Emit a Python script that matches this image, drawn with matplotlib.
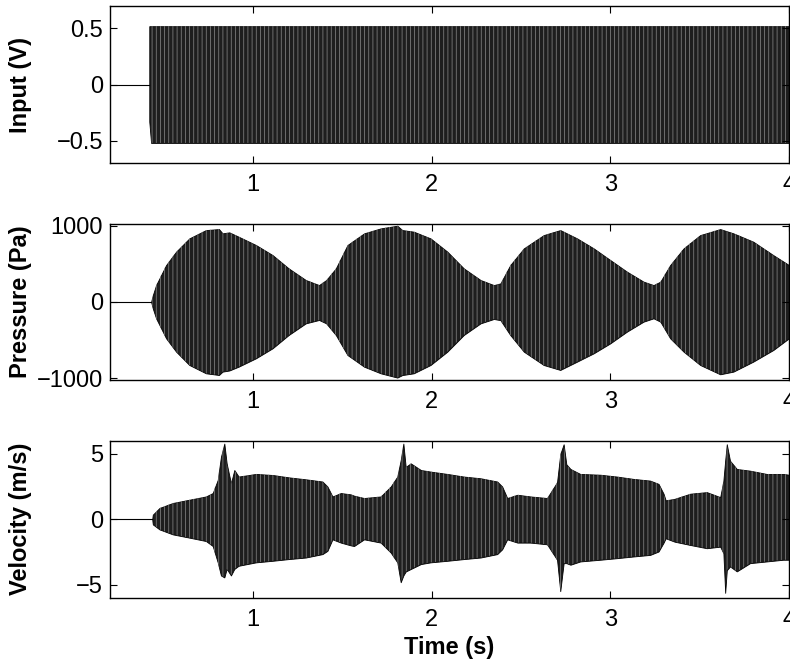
import numpy as np
import matplotlib
matplotlib.use('Agg')
import matplotlib.pyplot as plt

plt.rcParams['font.family'] = ['Liberation Sans', 'DejaVu Sans']
plt.rcParams['font.size'] = 17
plt.rcParams['axes.unicode_minus'] = True
plt.rcParams['hatch.linewidth'] = 0.5

# --- DADOS (envelopes) ---
t_inicio = 0.2
t_fim = 4.0

# Input (V)
onset_in = 0.42
t_in = [0.42, 0.43, 4.0]
in_sup = [0.52, 0.52, 0.52]
in_inf = [-0.33, -0.52, -0.52]

# Pressure (Pa)
onset_p = 0.43
t_p_sup = [0.43, 0.44, 0.458, 0.514, 0.57, 0.644, 0.737, 0.81, 0.83, 0.868, 0.92, 1.017,
           1.11, 1.2, 1.296, 1.37, 1.41, 1.464, 1.529, 1.622, 1.715, 1.808, 1.836, 1.90,
           1.994, 2.088, 2.18, 2.274, 2.348, 2.385, 2.44, 2.516, 2.627, 2.72, 2.814,
           2.907, 3.0, 3.093, 3.186, 3.242, 3.28, 3.335, 3.41, 3.503, 3.615, 3.689, 3.8,
           3.912, 4.0]
p_sup = [0, 89, 220, 482, 658, 832, 941, 954, 898, 911, 854, 745,
         613, 439, 286, 220, 286, 439, 745, 898, 963, 998, 941, 920,
         832, 658, 439, 286, 220, 242, 482, 701, 875, 941, 832,
         701, 548, 396, 265, 220, 265, 482, 701, 875, 954, 898, 789,
         613, 482]
p_inf = [0, -89, -216, -478, -653, -828, -937, -959, -915, -900, -850, -740,
         -609, -435, -282, -238, -282, -435, -697, -850, -937, -993, -960, -937,
         -828, -653, -435, -282, -225, -240, -435, -653, -828, -893, -784,
         -675, -544, -391, -260, -216, -260, -478, -653, -828, -950, -915, -784,
         -632, -478]

# Velocity (m/s)
onset_v = 0.436
t_v = [0.436, 0.44, 0.477, 0.551, 0.644, 0.737, 0.775, 0.803, 0.821, 0.84, 0.853, 0.877,
       0.896, 0.92, 1.017, 1.11, 1.2, 1.296, 1.389, 1.417, 1.445, 1.492, 1.547, 1.566,
       1.622, 1.715, 1.771, 1.808, 1.827, 1.842, 1.855, 1.883, 1.94, 1.994, 2.088,
       2.18, 2.274, 2.367, 2.395, 2.423, 2.48, 2.553, 2.646, 2.702, 2.72, 2.739,
       2.754, 2.777, 2.832, 2.944, 3.037, 3.13, 3.223, 3.27, 3.298, 3.31, 3.36,
       3.447, 3.54, 3.615, 3.633, 3.643, 3.652, 3.67, 3.708, 3.782, 3.875, 3.968, 4.0]
v_sup = [0, 0.35, 0.86, 1.24, 1.49, 1.74, 2.0, 3.0, 4.77, 5.78, 4.27, 2.75,
         3.76, 3.26, 3.46, 3.38, 3.2, 3.05, 2.88, 2.5, 1.74, 2.0, 1.9, 1.8,
         1.62, 1.74, 2.5, 3.26, 4.52, 5.78, 4.0, 4.27, 3.76, 3.64, 3.46,
         3.26, 3.13, 2.88, 2.5, 1.62, 1.87, 1.74, 1.62, 2.83, 4.98, 5.73,
         4.2, 3.84, 3.46, 3.4, 3.26, 3.08, 2.95, 2.7, 1.95, 1.44, 1.56,
         1.95, 2.07, 1.69, 2.95, 4.5, 5.73, 4.47, 3.84, 3.71, 3.46, 3.46, 3.4]
v_inf = [0, -0.4, -0.78, -1.16, -1.41, -1.67, -2.05, -3.3, -4.3, -4.45, -3.8, -4.3,
         -3.8, -3.56, -3.3, -3.18, -3.05, -2.93, -2.67, -2.42, -1.54, -1.79, -2.0, -2.05,
         -1.54, -1.79, -2.55, -3.3, -4.82, -4.3, -4.0, -3.81, -3.43, -3.3, -3.18,
         -3.05, -2.93, -2.67, -2.3, -1.54, -1.79, -1.79, -1.92, -3.1, -5.5, -3.36,
         -3.36, -3.48, -3.23, -3.1, -2.98, -2.85, -2.73, -2.47, -1.8, -1.46, -1.72,
         -1.97, -2.22, -2.1, -2.6, -5.63, -3.9, -3.61, -3.99, -3.36, -3.23, -3.1, -3.1]

paineis = [
    dict(t_sup=t_in, sup=in_sup, inf=in_inf, onset=onset_in, ylim=(-0.7, 0.7),
         yticks=[-0.5, 0, 0.5], ytl=['\u22120.5', '0', '0.5'], ylabel='Input (V)',
         pos=[0.1392, 0.754, 0.8595, 0.237]),
    dict(t_sup=t_p_sup, sup=p_sup, inf=p_inf, onset=onset_p, ylim=(-1025, 1020),
         yticks=[-1000, 0, 1000], ytl=['\u22121000', '0', '1000'], ylabel='Pressure (Pa)',
         pos=[0.1392, 0.4268, 0.8595, 0.2353]),
    dict(t_sup=t_v, sup=v_sup, inf=v_inf, onset=onset_v, ylim=(-6, 6),
         yticks=[-5, 0, 5], ytl=['\u22125', '0', '5'], ylabel='Velocity (m/s)',
         pos=[0.1392, 0.0985, 0.8595, 0.2368]),
]

fig = plt.figure(figsize=(7.9, 6.63), dpi=100)

for p in paineis:
    ax = fig.add_axes(p['pos'])
    ax.plot([t_inicio, p['onset']], [0, 0], color='black', linewidth=0.8)
    # sinal denso: envelope preenchido + listras verticais
    ax.fill_between(p['t_sup'], p['inf'], p['sup'], facecolor='#1e1e1e',
                    edgecolor='black', linewidth=0.6)
    ax.fill_between(p['t_sup'], p['inf'], p['sup'], facecolor='none',
                    edgecolor='#8c8c8c', linewidth=0, hatch='||||')
    ax.set_xlim(t_inicio, t_fim)
    ax.set_ylim(*p['ylim'])
    ax.set_xticks([1, 2, 3, 4])
    ax.set_xticklabels(['1', '2', '3', '4'])
    ax.set_yticks(p['yticks'])
    ax.set_yticklabels(p['ytl'])
    ax.tick_params(direction='in', length=5, width=0.8, top=True, right=True,
                   labelsize=17, pad=5)
    ax.tick_params(axis='x', pad=8)
    ax.set_ylabel(p['ylabel'], fontweight='bold', fontsize=17)
    ax.yaxis.set_label_coords(-0.115, 0.5)
    for s in ax.spines.values():
        s.set_linewidth(1.0)

ax.set_xlabel('Time (s)', fontweight='bold', fontsize=17, labelpad=4)

plt.savefig('out.png', dpi=100)
